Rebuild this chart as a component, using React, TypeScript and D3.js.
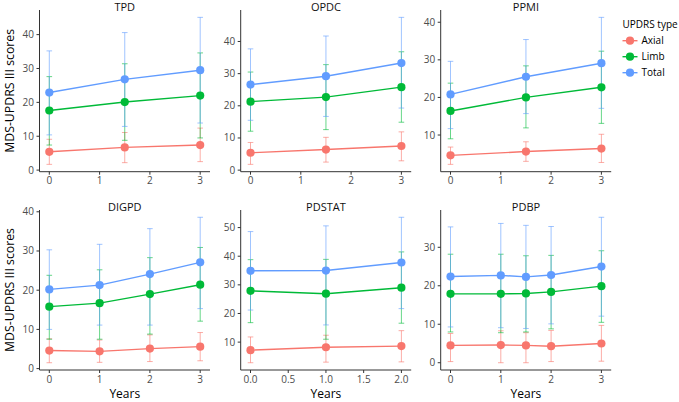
import React from 'react';
import * as d3 from 'd3';

// ---------- DATA ----------
const seriesNames = ['Axial', 'Limb', 'Total'];
const seriesColors = ['#F8766D', '#00BA38', '#619CFF'];
const cohortNames = ['TPD', 'OPDC', 'PPMI', 'DIGPD', 'PDSTAT', 'PDBP'];

// TPD
const tpdYears = [0, 1.5, 3];
const tpdAxialMean = [5.4, 6.7, 7.4];
const tpdAxialLow = [1.7, 2.2, 2.5];
const tpdAxialHigh = [9.1, 11.1, 12.4];
const tpdLimbMean = [17.6, 20.1, 22.0];
const tpdLimbLow = [7.4, 8.8, 9.5];
const tpdLimbHigh = [27.6, 31.4, 34.6];
const tpdTotalMean = [22.9, 26.8, 29.5];
const tpdTotalLow = [10.4, 12.9, 13.9];
const tpdTotalHigh = [35.2, 40.6, 45.1];

// OPDC
const opdcYears = [0, 1.5, 3];
const opdcAxialMean = [5.4, 6.4, 7.5];
const opdcAxialLow = [1.8, 2.5, 2.9];
const opdcAxialHigh = [8.6, 10.2, 11.9];
const opdcLimbMean = [21.3, 22.7, 25.8];
const opdcLimbLow = [12.1, 12.6, 14.9];
const opdcLimbHigh = [30.5, 32.8, 36.8];
const opdcTotalMean = [26.6, 29.2, 33.3];
const opdcTotalLow = [15.5, 16.7, 19.3];
const opdcTotalHigh = [37.7, 41.7, 47.5];

// PPMI
const ppmiYears = [0, 1.5, 3];
const ppmiAxialMean = [4.6, 5.6, 6.4];
const ppmiAxialLow = [2.2, 3.0, 2.7];
const ppmiAxialHigh = [6.8, 8.2, 10.2];
const ppmiLimbMean = [16.4, 20.0, 22.7];
const ppmiLimbLow = [9.0, 11.9, 13.1];
const ppmiLimbHigh = [23.8, 28.4, 32.3];
const ppmiTotalMean = [20.8, 25.5, 29.1];
const ppmiTotalLow = [11.7, 15.7, 17.1];
const ppmiTotalHigh = [29.6, 35.4, 41.3];

// DIGPD
const digpdYears = [0, 1, 2, 3];
const digpdAxialMean = [4.6, 4.4, 5.1, 5.6];
const digpdAxialLow = [1.5, 1.6, 1.8, 2.0];
const digpdAxialHigh = [7.6, 7.3, 8.6, 9.2];
const digpdLimbMean = [15.8, 16.7, 19.0, 21.4];
const digpdLimbLow = [7.5, 7.5, 8.8, 12.1];
const digpdLimbHigh = [23.8, 25.2, 28.3, 30.9];
const digpdTotalMean = [20.2, 21.3, 24.1, 27.1];
const digpdTotalLow = [10.0, 11.1, 11.1, 15.3];
const digpdTotalHigh = [30.3, 31.7, 35.7, 38.6];

// PDSTAT
const pdstatYears = [0, 1, 2];
const pdstatAxialMean = [7.2, 8.2, 8.6];
const pdstatAxialLow = [2.8, 3.0, 3.1];
const pdstatAxialHigh = [11.8, 12.4, 14.0];
const pdstatLimbMean = [27.9, 26.9, 29.0];
const pdstatLimbLow = [16.8, 11.0, 16.6];
const pdstatLimbHigh = [38.8, 38.9, 41.5];
const pdstatTotalMean = [34.9, 35.0, 37.8];
const pdstatTotalLow = [21.2, 16.0, 21.7];
const pdstatTotalHigh = [48.6, 50.6, 53.6];

// PDBP
const pdbpYears = [0, 1, 1.5, 2, 3];
const pdbpAxialMean = [4.5, 4.6, 4.5, 4.3, 5.0];
const pdbpAxialLow = [0.3, 0.0, 0.0, 0.3, 0.4];
const pdbpAxialHigh = [7.6, 8.3, 7.8, 8.4, 9.7];
const pdbpLimbMean = [17.9, 17.9, 18.0, 18.4, 19.9];
const pdbpLimbLow = [8.0, 7.8, 8.0, 8.8, 10.5];
const pdbpLimbHigh = [28.2, 28.2, 27.8, 27.9, 29.1];
const pdbpTotalMean = [22.4, 22.7, 22.3, 22.8, 25.0];
const pdbpTotalLow = [9.3, 9.1, 8.9, 10.1, 12.1];
const pdbpTotalHigh = [35.3, 36.2, 35.7, 35.4, 37.8];

const yAxisTitle = 'MDS-UPDRS III scores';
const xAxisTitle = 'Years';
const legendTitle = 'UPDRS type';

type Series = { mean: number[]; low: number[]; high: number[] };
type Panel = { name: string; years: number[]; series: Series[] };

const panels: Panel[] = [
  { name: cohortNames[0], years: tpdYears, series: [
    { mean: tpdAxialMean, low: tpdAxialLow, high: tpdAxialHigh },
    { mean: tpdLimbMean, low: tpdLimbLow, high: tpdLimbHigh },
    { mean: tpdTotalMean, low: tpdTotalLow, high: tpdTotalHigh }] },
  { name: cohortNames[1], years: opdcYears, series: [
    { mean: opdcAxialMean, low: opdcAxialLow, high: opdcAxialHigh },
    { mean: opdcLimbMean, low: opdcLimbLow, high: opdcLimbHigh },
    { mean: opdcTotalMean, low: opdcTotalLow, high: opdcTotalHigh }] },
  { name: cohortNames[2], years: ppmiYears, series: [
    { mean: ppmiAxialMean, low: ppmiAxialLow, high: ppmiAxialHigh },
    { mean: ppmiLimbMean, low: ppmiLimbLow, high: ppmiLimbHigh },
    { mean: ppmiTotalMean, low: ppmiTotalLow, high: ppmiTotalHigh }] },
  { name: cohortNames[3], years: digpdYears, series: [
    { mean: digpdAxialMean, low: digpdAxialLow, high: digpdAxialHigh },
    { mean: digpdLimbMean, low: digpdLimbLow, high: digpdLimbHigh },
    { mean: digpdTotalMean, low: digpdTotalLow, high: digpdTotalHigh }] },
  { name: cohortNames[4], years: pdstatYears, series: [
    { mean: pdstatAxialMean, low: pdstatAxialLow, high: pdstatAxialHigh },
    { mean: pdstatLimbMean, low: pdstatLimbLow, high: pdstatLimbHigh },
    { mean: pdstatTotalMean, low: pdstatTotalLow, high: pdstatTotalHigh }] },
  { name: cohortNames[5], years: pdbpYears, series: [
    { mean: pdbpAxialMean, low: pdbpAxialLow, high: pdbpAxialHigh },
    { mean: pdbpLimbMean, low: pdbpLimbLow, high: pdbpLimbHigh },
    { mean: pdbpTotalMean, low: pdbpTotalLow, high: pdbpTotalHigh }] },
];

// ---------- LAYOUT ----------
const W = 679;
const H = 402;
const FONT = '"Open Sans", "Noto Sans", sans-serif';
const colLefts = [39.5, 240.7, 440.7];
const panelW = 170.5;
const rowTops = [10, 210];
const rowBottoms = [171.7, 370];
const tickCol = '#4D4D4D';
const axisCol = '#333333';

function PanelView({ p, idx }: { p: Panel; idx: number }) {
  const col = idx % 3;
  const row = Math.floor(idx / 3);
  const left = colLefts[col];
  const right = left + panelW;
  const top = rowTops[row];
  const bottom = rowBottoms[row];

  const xMin = d3.min(p.years)!;
  const xMax = d3.max(p.years)!;
  const xPad = (xMax - xMin) * 0.065;
  const x = d3.scaleLinear().domain([xMin - xPad, xMax + xPad]).range([left, right]);

  const lo = d3.min(p.series.flatMap((s) => s.low))!;
  const hi = d3.max(p.series.flatMap((s) => s.high))!;
  const yPad = (hi - lo) * 0.05;
  const y = d3.scaleLinear().domain([lo - yPad, hi + yPad]).range([bottom, top]);

  const xTicks = x.ticks(4);
  const xStep = xTicks.length > 1 ? xTicks[1] - xTicks[0] : 1;
  const xFmt = xStep < 1 ? d3.format('.1f') : d3.format('d');
  const yTicks = y.ticks(5);

  const line = d3.line<number>().x((_, i) => x(p.years[i])).y((v) => y(v));
  const cap = 2.8;

  return (
    <g>
      {/* title */}
      <text x={(left + right) / 2} y={top + 1.3} textAnchor="middle" fontSize={11} fontWeight={400} fill="#111">{p.name}</text>

      {/* error bars */}
      {p.series.map((s, si) => (
        <g key={'e' + si} stroke={seriesColors[si]} strokeOpacity={0.6} strokeWidth={1} fill="none">
          {p.years.map((yr, i) => {
            const cx = x(yr);
            return (
              <g key={i}>
                <line x1={cx} x2={cx} y1={y(s.low[i])} y2={y(s.high[i])} />
                <line x1={cx - cap} x2={cx + cap} y1={y(s.low[i])} y2={y(s.low[i])} />
                <line x1={cx - cap} x2={cx + cap} y1={y(s.high[i])} y2={y(s.high[i])} />
              </g>
            );
          })}
        </g>
      ))}

      {/* lines */}
      {p.series.map((s, si) => (
        <path key={'l' + si} d={line(s.mean) || ''} stroke={seriesColors[si]} strokeWidth={1.4} fill="none" />
      ))}

      {/* points */}
      {p.series.map((s, si) => (
        <g key={'p' + si} fill={seriesColors[si]}>
          {p.years.map((yr, i) => (
            <circle key={i} cx={x(yr)} cy={y(s.mean[i])} r={4.1} />
          ))}
        </g>
      ))}

      {/* axes */}
      <path d={`M${left},${top}V${bottom}H${right}`} stroke={axisCol} strokeWidth={1} fill="none" />
      {yTicks.map((t) => (
        <g key={'yt' + t}>
          <line x1={left - 3} x2={left} y1={y(t)} y2={y(t)} stroke={axisCol} strokeWidth={1} />
          <text x={left - 5.5} y={y(t)} dy="0.35em" textAnchor="end" fontSize={10} fill={tickCol}>{t}</text>
        </g>
      ))}
      {xTicks.map((t) => (
        <g key={'xt' + t}>
          <line x1={x(t)} x2={x(t)} y1={bottom} y2={bottom + 3} stroke={axisCol} strokeWidth={1} />
          <text x={x(t)} y={bottom + 12.5} textAnchor="middle" fontSize={10} fill={tickCol}>{xFmt(t)}</text>
        </g>
      ))}

      {row === 1 && (
        <text x={(left + right) / 2} y={398.3} textAnchor="middle" fontSize={12} fill="#000">{xAxisTitle}</text>
      )}
      {col === 0 && (
        <text transform={`translate(13.5,${(top + bottom) / 2}) rotate(-90)`} textAnchor="middle" fontSize={12.3} fill="#000">{yAxisTitle}</text>
      )}
    </g>
  );
}

function Legend() {
  const lx = 622.5;
  const ys = [40.7, 56.7, 72.7];
  return (
    <g>
      <text x={lx} y={27.5} fontSize={10} fill="#000">{legendTitle}</text>
      {seriesNames.map((n, i) => (
        <g key={n}>
          <line x1={lx} x2={lx + 15} y1={ys[i]} y2={ys[i]} stroke={seriesColors[i]} strokeWidth={1.4} />
          <circle cx={lx + 7.5} cy={ys[i]} r={4.1} fill={seriesColors[i]} />
          <text x={lx + 19} y={ys[i]} dy="0.36em" fontSize={10} fill="#000">{n}</text>
        </g>
      ))}
    </g>
  );
}

export default function App() {
  return (
    <svg width={W} height={H} viewBox={`0 0 ${W} ${H}`}
      style={{ position: 'absolute', left: 0, top: 0, background: '#fff', fontFamily: FONT }}>
      <rect width={W} height={H} fill="#fff" />
      {panels.map((p, i) => <PanelView key={p.name} p={p} idx={i} />)}
      <Legend />
    </svg>
  );
}
